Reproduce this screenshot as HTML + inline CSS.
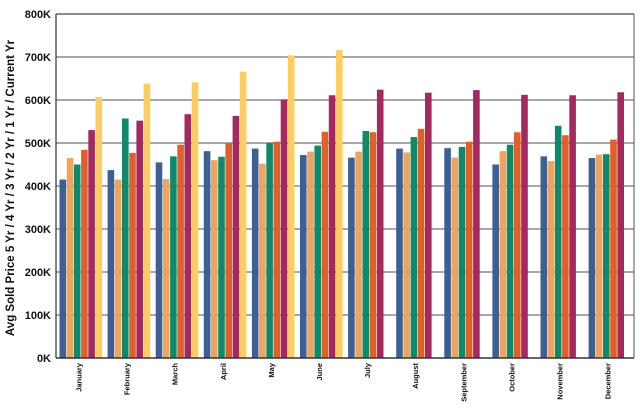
<!DOCTYPE html>
<html><head><style>
body{margin:0;background:#fff;width:640px;height:405px;overflow:hidden}
svg text{font-family:"Liberation Sans",sans-serif;font-weight:bold;fill:#111}
</style></head><body>
<svg id="s" width="640" height="405" xmlns="http://www.w3.org/2000/svg"></svg>
<script>
(function(){
var s=document.getElementById('s'),h='';
var T=14,B=358,L=56,R=634,pk=(B-T)/800;
for(var i=0;i<=8;i++){var y=B-i*100*pk;
 if(i>0)h+='<line x1="'+L+'" x2="'+R+'" y1="'+y+'" y2="'+y+'" stroke="#8a8a8a" stroke-width="1.5"/>';
 h+='<text x="51" y="'+(y+4)+'" font-size="11" text-anchor="end">'+(i*100)+'K</text>';}
var cols=['#3d5f94','#f0a35a','#10896b','#e0602a','#a3295f','#fdcd5f'];
var d=[[415,465,450,484,530,607],[437,415,557,477,552,638],[455,416,469,496,567,641],[481,460,468,500,563,666],[487,452,500,503,601,704],[472,480,494,526,611,716],[466,480,528,525,624],[487,478,514,533,617],[488,466,491,503,623],[450,481,496,525,612],[469,458,540,518,611],[465,473,474,508,618]];
var m=['January','February','March','April','May','June','July','August','September','October','November','December'];
for(var g=0;g<12;g++){var x0=59.5+g*48.1;
 for(var b=0;b<d[g].length;b++){var v=d[g][b],yy=B-v*pk;
  h+='<rect x="'+(x0+b*7.2)+'" y="'+yy+'" width="6.6" height="'+(B-yy)+'" fill="'+cols[b]+'"/>';}
 var cx=x0+19;
 h+='<text transform="translate('+(cx+3)+',363) rotate(-90)" font-size="7.5" text-anchor="end">'+m[g]+'</text>';}
h+='<line x1="'+L+'" x2="'+R+'" y1="'+B+'" y2="'+B+'" stroke="#333" stroke-width="1.5"/>';
h+='<line x1="'+L+'" x2="'+L+'" y1="'+T+'" y2="'+B+'" stroke="#333" stroke-width="1.2"/>';
h+='<line x1="'+L+'" x2="'+R+'" y1="'+T+'" y2="'+T+'" stroke="#555" stroke-width="1"/>';
h+='<line x1="'+R+'" x2="'+R+'" y1="'+T+'" y2="'+B+'" stroke="#555" stroke-width="1"/>';
h+='<text transform="translate(14,188) rotate(-90)" font-size="11.5" text-anchor="middle">Avg Sold Price 5 Yr / 4 Yr / 3 Yr / 2 Yr / 1 Yr / Current Yr</text>';
s.innerHTML=h;
})();
</script>
</body></html>
